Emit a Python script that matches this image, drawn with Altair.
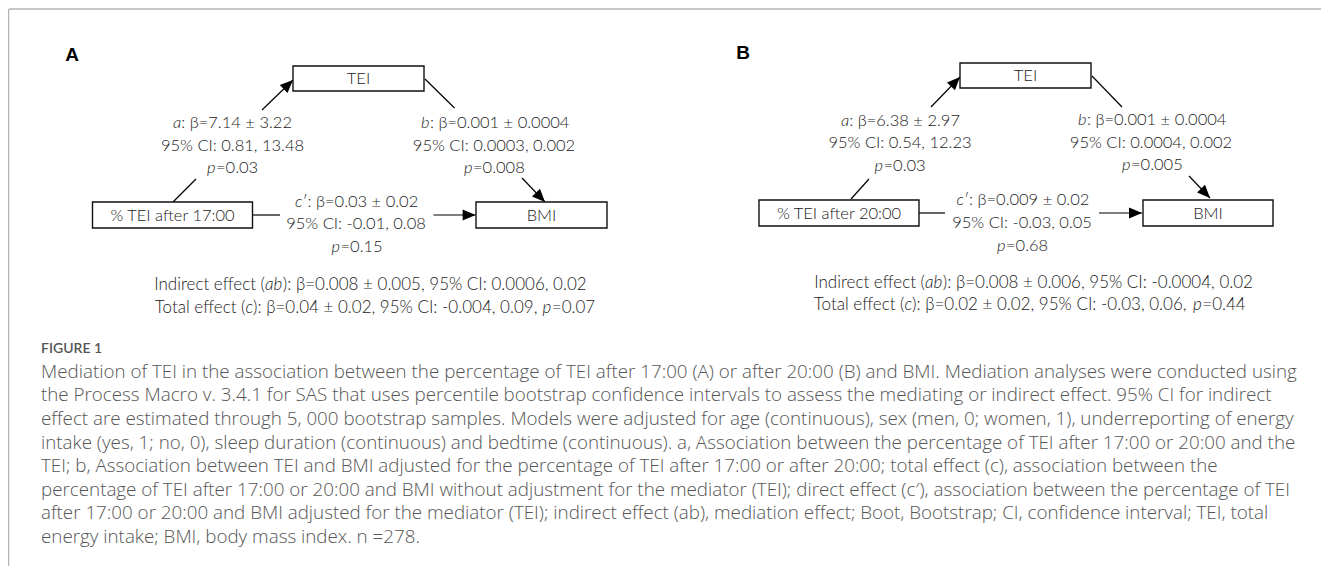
import math
import re
import altair as alt
import pandas as pd

# ---------------- data (text content; *x* marks italic runs) ----------------
panel_labels = ["A", "B"]
mediator_label = "TEI"
outcome_label = "BMI"
predictor_labels = ["% TEI after 17:00", "% TEI after 20:00"]
a_text = [["*a*: β=7.14 ± 3.22", "95% CI: 0.81, 13.48", "*p*=0.03"],
          ["*a*: β=6.38 ± 2.97", "95% CI: 0.54, 12.23", "*p*=0.03"]]
b_text = [["*b*: β=0.001 ± 0.0004", "95% CI: 0.0003, 0.002", "*p*=0.008"],
          ["*b*: β=0.001 ± 0.0004", "95% CI: 0.0004, 0.002", "*p*=0.005"]]
c_text = [["*c*′: β=0.03 ± 0.02", "95% CI: -0.01, 0.08", "*p*=0.15"],
          ["*c*′: β=0.009 ± 0.02", "95% CI: -0.03, 0.05", "*p*=0.68"]]
effect_text = [["Indirect effect (*ab*): β=0.008 ± 0.005, 95% CI: 0.0006, 0.02",
                "Total effect (*c*): β=0.04 ± 0.02, 95% CI: -0.004, 0.09, *p*=0.07"],
               ["Indirect effect (*ab*): β=0.008 ± 0.006, 95% CI: -0.0004, 0.02",
                "Total effect (*c*): β=0.02 ± 0.02, 95% CI: -0.03, 0.06, *p*=0.44"]]
figure_label = "FIGURE 1"
caption_lines = [
    "Mediation of TEI in the association between the percentage of TEI after 17:00 (A) or after 20:00 (B) and BMI. Mediation analyses were conducted using",
    "the Process Macro v. 3.4.1 for SAS that uses percentile bootstrap confidence intervals to assess the mediating or indirect effect. 95% CI for indirect",
    "effect are estimated through 5, 000 bootstrap samples. Models were adjusted for age (continuous), sex (men, 0; women, 1), underreporting of energy",
    "intake (yes, 1; no, 0), sleep duration (continuous) and bedtime (continuous). a, Association between the percentage of TEI after 17:00 or 20:00 and the",
    "TEI; b, Association between TEI and BMI adjusted for the percentage of TEI after 17:00 or after 20:00; total effect (c), association between the",
    "percentage of TEI after 17:00 or 20:00 and BMI without adjustment for the mediator (TEI); direct effect (c′), association between the percentage of TEI",
    "after 17:00 or 20:00 and BMI adjusted for the mediator (TEI); indirect effect (ab), mediation effect; Boot, Bootstrap; CI, confidence interval; TEI, total",
    "energy intake; BMI, body mass index. n =278.",
]

# ---------------- layout (page pixel coordinates) ----------------
W, H = 1313, 558
X0, Y0 = 8, 8
FS_DIAG = 16.5
FS_EFF = 17.0
ITALIC_W = {"a": 8.3, "b": 9.0, "c": 7.4, "p": 9.0, "ab": 17.3}   # at 16.5 px
layout = [
    dict(letter=(72, 55), med=(293, 424, 66, 91), pred=(92.5, 252.5, 202, 228),
         out=(476, 607, 202, 228), a_arrow=(262, 110, 293, 80), a_tail=(196, 179, 173, 202),
         b_line=(425, 79, 454.5, 108), b_arrow=(522, 178, 545, 202),
         c_line=(252.5, 215, 280, 215), c_arrow=(433.5, 215, 475.6, 215),
         a_x=232.5, a_y=(123, 146, 168), a_anchor=([173], None, [207]),
         b_x=494, b_y=(123, 146, 168), b_anchor=([421], None, [464]),
         c_x=356, c_y=(202, 224, 247), c_anchor=([295], None, [331.5]),
         eff_y=(285, 308), eff_anchor=([265], [245.5, 542.5])),
    dict(letter=(743, 53), med=(960, 1091, 63, 88), pred=(759, 919, 200, 226),
         out=(1143, 1273, 200, 226), a_arrow=(931, 107, 960, 77), a_tail=(869, 179, 851, 199),
         b_line=(1092, 76, 1122, 107), b_arrow=(1189, 176, 1210, 198),
         c_line=(919, 213, 945, 213), c_arrow=(1099, 213, 1142, 213),
         a_x=900, a_y=(121, 143, 166), a_anchor=([841], None, [874.5]),
         b_x=1151, b_y=(120, 143, 165), b_anchor=([1078], None, [1122]),
         c_x=1022, c_y=(200, 223, 246), c_anchor=([956.5], None, [997]),
         eff_y=(283, 305), eff_anchor=([925], [904.5, 1193])),
]

norm_c, norm_l, norm_r, ital_l = [], [], [], []


def place(text, y, center, anchors, fs):
    """Split a line on *italic* runs; place runs around measured anchors."""
    if anchors is None:
        norm_c.append(dict(x=center, y=y, text=text, fs=fs))
        return
    parts = re.split(r"\*(.+?)\*", text)
    k = 0
    for j in range(1, len(parts), 2):
        ax = anchors[k]
        k += 1
        if j == 1 and parts[0]:
            norm_r.append(dict(x=ax, y=y, text=parts[0], fs=fs))
        ital_l.append(dict(x=ax, y=y, text=parts[j], fs=fs))
        if parts[j + 1]:
            norm_l.append(dict(x=ax + ITALIC_W[parts[j]] * fs / 16.5, y=y, text=parts[j + 1], fs=fs))


boxes, rules, heads, letters = [], [], [], []
for i, L in enumerate(layout):
    for key, lab in (("med", mediator_label), ("pred", predictor_labels[i]), ("out", outcome_label)):
        x1, x2, y1, y2 = L[key]
        boxes.append(dict(x=x1, x2=x2, y=y1, y2=y2))
        norm_c.append(dict(x=(x1 + x2) / 2, y=(y1 + y2) / 2 + 0.5, text=lab, fs=FS_DIAG))
    for key in ("a_arrow", "a_tail", "b_line", "b_arrow", "c_line", "c_arrow"):
        x1, y1, x2, y2 = L[key]
        rules.append(dict(x=x1, y=y1, x2=x2, y2=y2))
        if key.endswith("arrow"):
            ang = math.degrees(math.atan2(x2 - x1, -(y2 - y1))) % 360
            heads.append(dict(x=x2, y=y2, angle=ang))
    for pre in ("a", "b", "c"):
        lines = {"a": a_text, "b": b_text, "c": c_text}[pre][i]
        for t, yy, anc in zip(lines, L[pre + "_y"], L[pre + "_anchor"]):
            place(t, yy, L[pre + "_x"], anc, FS_DIAG)
    for t, yy, anc in zip(effect_text[i], L["eff_y"], L["eff_anchor"]):
        place(t, yy, None, anc, FS_EFF)
    letters.append(dict(x=L["letter"][0], y=L["letter"][1], text=panel_labels[i]))

cap = [dict(x=41, y=349, text=figure_label)]
caps = [dict(x=41, y=371.7 + 23.6 * k, text=t) for k, t in enumerate(caption_lines)]
frame = [dict(x=9, y=9, x2=1329, y2=9), dict(x=8.5, y=9, x2=8.5, y2=574)]

xs = alt.Scale(domain=[X0, X0 + W], nice=False, zero=False)
ys = alt.Scale(domain=[Y0, Y0 + H], nice=False, zero=False, reverse=True)


def X(f="x"):
    return alt.X(f"{f}:Q", scale=xs, axis=None)


def Y(f="y"):
    return alt.Y(f"{f}:Q", scale=ys, axis=None)


FONT = "Lato"
TXT = "#1a1a1a"


def text_layer(rows, align, style="normal"):
    return alt.Chart(pd.DataFrame(rows)).mark_text(
        font=FONT, fontWeight=300, fontStyle=style, color=TXT,
        align=align, baseline="middle").encode(
        x=X(), y=Y(), text="text:N", size=alt.Size("fs:Q", scale=None))


frame_layer = alt.Chart(pd.DataFrame(frame)).mark_rule(color="#b4b4b4", strokeWidth=1.5).encode(
    x=X(), y=Y(), x2="x2:Q", y2="y2:Q")
rule_layer = alt.Chart(pd.DataFrame(rules)).mark_rule(color="black", strokeWidth=1.2).encode(
    x=X(), y=Y(), x2="x2:Q", y2="y2:Q")
box_layer = alt.Chart(pd.DataFrame(boxes)).mark_rect(fill="white", stroke="#111", strokeWidth=1.4).encode(
    x=X(), y=Y(), x2="x2:Q", y2="y2:Q")
head_layer = alt.Chart(pd.DataFrame(heads)).mark_point(
    shape="M0,0L0.85,2L-0.85,2Z", filled=True, fill="black", size=169, opacity=1).encode(
    x=X(), y=Y(), angle=alt.Angle("angle:Q", scale=None))
letter_layer = alt.Chart(pd.DataFrame(letters)).mark_text(
    font="Liberation Sans", fontSize=19, fontWeight="bold", color="black", align="center", baseline="middle").encode(
    x=X(), y=Y(), text="text:N")
fig_layer = alt.Chart(pd.DataFrame(cap)).mark_text(
    font=FONT, fontSize=14, fontWeight=600, color="#555", align="left", baseline="middle").encode(
    x=X(), y=Y(), text="text:N")
cap_layer = alt.Chart(pd.DataFrame(caps)).mark_text(
    font="Open Sans", fontSize=18.8, fontWeight=300, color="#555", align="left", baseline="middle").encode(
    x=X(), y=Y(), text="text:N")

chart = alt.layer(frame_layer, rule_layer, box_layer, head_layer,
                  text_layer(norm_c, "center"), text_layer(norm_l, "left"), text_layer(norm_r, "right"),
                  text_layer(ital_l, "left", "italic"),
                  letter_layer, fig_layer, cap_layer).properties(
    width=W, height=H, padding=0, autosize="none", background="white"
).configure_view(stroke=None)

chart.save("out.html", embed_options={"renderer": "svg", "actions": False})
